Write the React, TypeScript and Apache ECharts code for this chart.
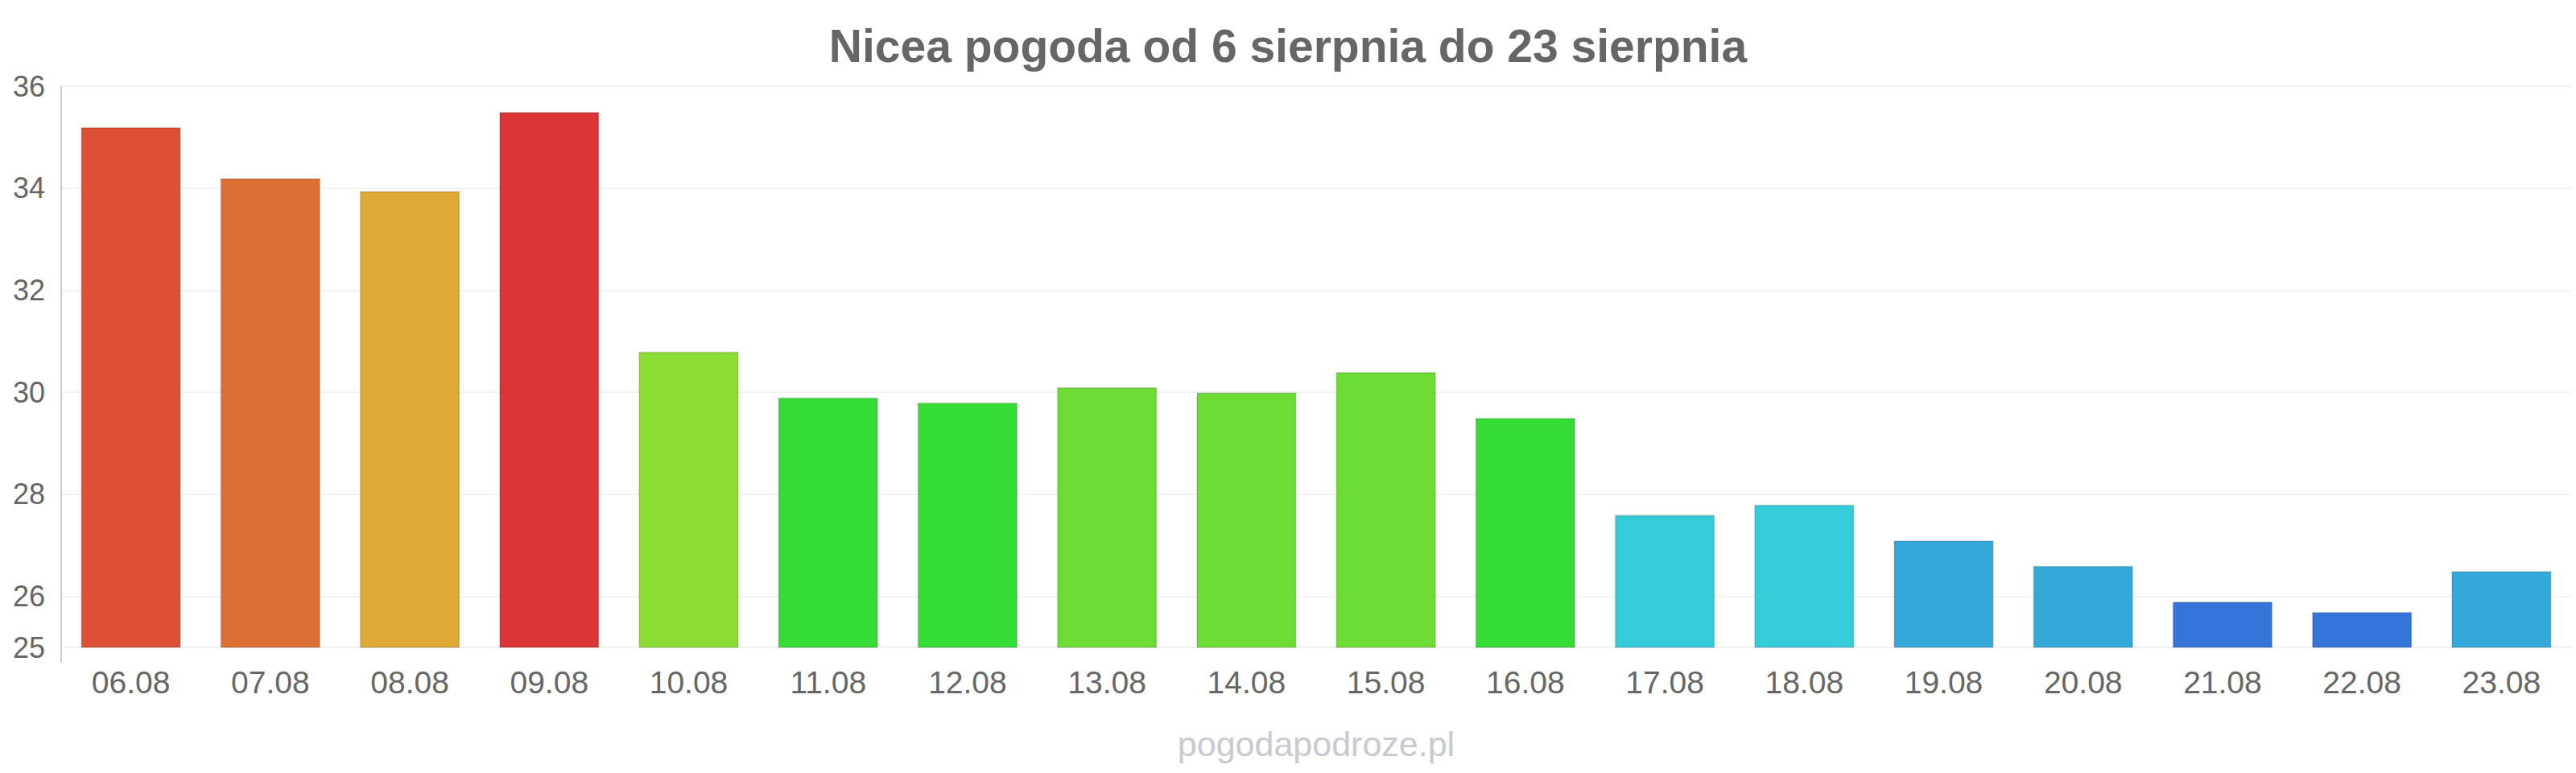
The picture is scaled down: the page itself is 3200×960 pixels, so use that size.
import React, { useEffect, useRef } from "react";
import * as echarts from "echarts";

const categories = ["06.08", "07.08", "08.08", "09.08", "10.08", "11.08", "12.08", "13.08", "14.08", "15.08", "16.08", "17.08", "18.08", "19.08", "20.08", "21.08", "22.08", "23.08"];
const temperatures = [35.2, 34.2, 33.95, 35.5, 30.8, 29.9, 29.8, 30.1, 30.0, 30.4, 29.5, 27.6, 27.8, 27.1, 26.6, 25.9, 25.7, 26.5];
const barColors = ["#dd5035", "#dd7035", "#dcaa35", "#db3535", "#8bdc35", "#35dc35", "#35dc35", "#6ddc35", "#6ddc35", "#6ddc35", "#35dc35", "#35cdda", "#35cdda", "#35a8da", "#35a8da", "#3575da", "#3575da", "#35a8da"];
const yMin = 25;
const yMax = 36;
const titleText = "Nicea pogoda od 6 sierpnia do 23 sierpnia";
const watermark = "pogodapodroze.pl";

const FONT = "'Liberation Sans', Arial, Helvetica, sans-serif";

export default function App() {
  const ref = useRef<HTMLDivElement>(null);
  useEffect(() => {
    document.body.style.margin = "0";
    const chart = echarts.init(ref.current!, null, { renderer: "svg" });
    const grid = { left: 76, right: 6, top: 107, bottom: 156 };
    const gridColors: string[] = [];
    for (let v = yMin; v <= yMax; v++) {
      gridColors.push(v === yMin || v % 2 === 0 ? "#f2f2f2" : "rgba(0,0,0,0)");
    }
    chart.setOption({
      animation: false,
      backgroundColor: "#ffffff",
      textStyle: { fontFamily: FONT },
      title: {
        text: titleText,
        left: "center",
        top: 23,
        textStyle: { fontFamily: FONT, fontSize: 57, fontWeight: "bold", color: "#666666" },
      },
      grid: { ...grid, containLabel: false },
      xAxis: {
        type: "category",
        data: categories,
        axisLine: { show: false },
        axisTick: { show: false },
        axisLabel: { color: "#666666", fontSize: 39, margin: 24, fontFamily: FONT },
        splitLine: { show: false },
      },
      yAxis: {
        type: "value",
        min: yMin,
        max: yMax,
        interval: 1,
        axisLine: { show: true, lineStyle: { color: "#cccccc", width: 2 } },
        axisTick: { show: false },
        axisLabel: {
          color: "#666666",
          fontSize: 36,
          margin: 20,
          fontFamily: FONT,
          formatter: (v: number) => (v === yMin || v % 2 === 0 ? String(v) : ""),
        },
        splitLine: { show: true, lineStyle: { color: gridColors, width: 2 } },
      },
      series: [
        {
          type: "bar",
          barCategoryGap: "28%",
          data: temperatures.map((t, i) => ({
            value: t,
            itemStyle: { color: barColors[i], borderColor: "rgba(0,0,0,0.12)", borderWidth: 2 },
          })),
        },
      ],
      graphic: [
        {
          type: "line",
          shape: { x1: 76, y1: 804, x2: 76, y2: 823 },
          style: { stroke: "#cccccc", lineWidth: 2 },
        },
        {
          type: "text",
          x: 76 + (3200 - 76 - 6) / 2,
          y: 924,
          style: {
            text: watermark,
            textAlign: "center",
            textVerticalAlign: "middle",
            fontSize: 43,
            fontFamily: FONT,
            fill: "#c8c9d1",
          },
        },
      ],
    });
    return () => chart.dispose();
  }, []);
  return <div ref={ref} style={{ width: 3200, height: 960 }} />;
}
